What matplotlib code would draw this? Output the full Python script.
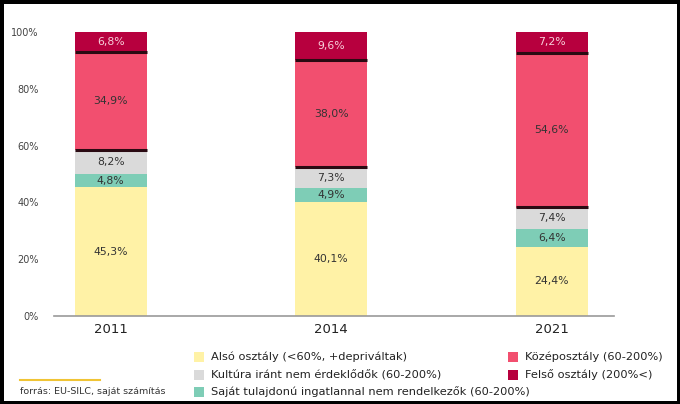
import matplotlib
matplotlib.use("Agg")
import matplotlib.pyplot as plt
import numpy as np
from matplotlib.patches import Rectangle
from matplotlib.lines import Line2D

years = ["2011", "2014", "2021"]
also = [45.3, 40.1, 24.4]
sajat = [4.8, 4.9, 6.4]
kultura = [8.2, 7.3, 7.4]
kozep = [34.9, 38.0, 54.6]
felso = [6.8, 9.6, 7.2]
yticks = [0, 20, 40, 60, 80, 100]
ytick_labels = ["0%", "20%", "40%", "60%", "80%", "100%"]

names = ["Alsó osztály (<60%, +depriváltak)",
         "Saját tulajdonú ingatlannal nem rendelkezők (60-200%)",
         "Kultúra iránt nem érdeklődők (60-200%)",
         "Középosztály (60-200%)",
         "Felső osztály (200%<)"]
colors = ["#FFF2A6", "#7ECDB6", "#DADADA", "#F24F6F", "#B7003E"]
label_colors = ["#333333", "#333333", "#333333", "#333333", "#F7D0DA"]

plt.rcParams['font.family'] = ['DejaVu Sans']

W, H = 680, 404
fig = plt.figure(figsize=(6.8, 4.04), dpi=100)
fig.patch.set_facecolor("white")
fig.patch.set_edgecolor("black")
fig.patch.set_linewidth(5)

ax = fig.add_axes([54/W, 88/H, 560/W, 284/H])
x = np.arange(len(years))
w = 0.327
series = [also, sajat, kultura, kozep, felso]
bottom = np.zeros(len(years))
for i, (vals, c) in enumerate(zip(series, colors)):
    vals = np.array(vals)
    ax.bar(x, vals, w, bottom=bottom, color=c, edgecolor='none', zorder=2)
    for xi, b, v in zip(x, bottom, vals):
        ax.text(xi, b + v / 2, f"{v:.1f}%".replace('.', ','), ha='center', va='center',
                fontsize=7.8, color=label_colors[i], zorder=4)
    if i == 3:
        for xi, b, v in zip(x, bottom, vals):
            ax.hlines([b + 0.3, b + v - 0.3], xi - w / 2, xi + w / 2,
                      colors="#2A0A12", linewidth=2.2, zorder=3)
    bottom = bottom + vals

ax.set_xlim(-0.257, 2.283)
ax.set_ylim(0, 100)
ax.set_yticks(yticks)
ax.set_yticklabels(ytick_labels, fontsize=7, color="#444444")
ax.set_xticks(x)
ax.set_xticklabels(years, fontsize=9.5, color="#222222")
ax.tick_params(axis='y', length=0, pad=11)
ax.tick_params(axis='x', length=0, pad=5)
for s in ['top', 'right', 'left']:
    ax.spines[s].set_visible(False)
ax.spines['bottom'].set_color("#999999")
ax.spines['bottom'].set_linewidth(1.2)

# legend (manual layout: left column 3 items, right column 2 items)
leg_items = [(0, 194, 357), (2, 194, 375), (1, 194, 392),
             (3, 508, 357), (4, 508, 375)]
for k, px, py in leg_items:
    fig.add_artist(Rectangle((px/W, (H - py - 5)/H), 10/W, 10/H,
                             facecolor=colors[k], edgecolor='none',
                             transform=fig.transFigure))
    fig.text((px + 17)/W, 1 - py/H, names[k], fontsize=8.2, color="#222222",
             ha='left', va='center')

fig.add_artist(Line2D([20/W, 100/W], [1 - 380/H, 1 - 380/H],
                      color="#F0C435", linewidth=1.5))
fig.text(20/W, 1 - 392/H, "forrás: EU-SILC, saját számítás", fontsize=6.8,
         color="#333333", va='center', ha='left')

fig.savefig("out.png", dpi=100, facecolor=fig.get_facecolor(),
            edgecolor=fig.get_edgecolor())
